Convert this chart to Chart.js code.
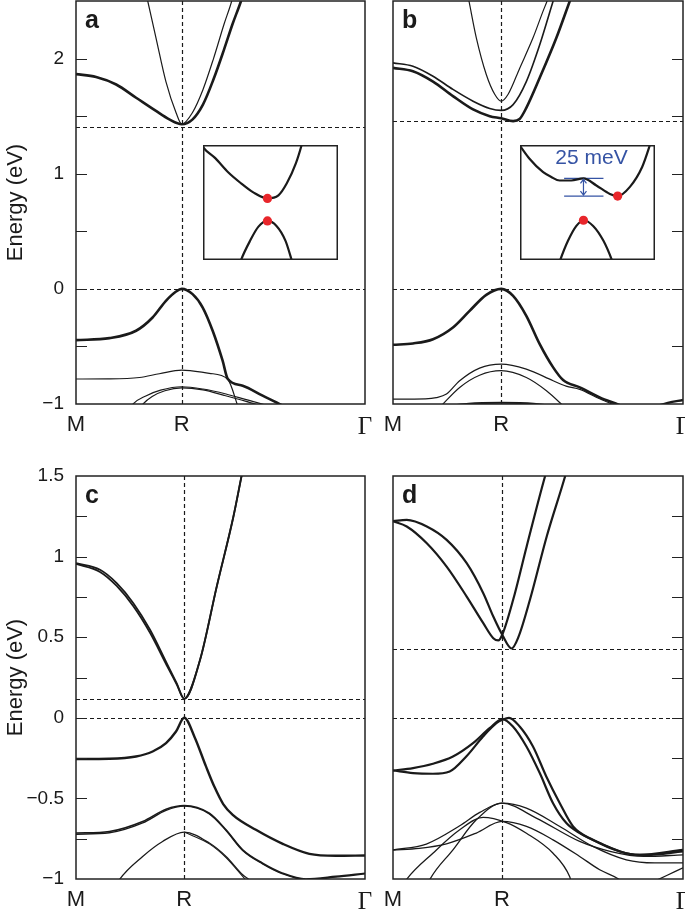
<!DOCTYPE html>
<html>
<head>
<meta charset="utf-8">
<script src="https://cdn.jsdelivr.net/npm/chart.js@4.4.1/dist/chart.umd.min.js"></script>
<style>
  html, body { margin: 0; padding: 0; background: #fff; }
  #fig { position: relative; width: 685px; height: 915px; overflow: hidden; background: #fff; }
  canvas { position: absolute; }
</style>
</head>
<body>
<div id="fig">
  <canvas id="pa" style="left:0;top:0" width="378" height="440"></canvas>
  <canvas id="pb" style="left:380px;top:0" width="305" height="440"></canvas>
  <canvas id="pc" style="left:0;top:460px" width="378" height="455"></canvas>
  <canvas id="pd" style="left:380px;top:460px" width="305" height="455"></canvas>
  <canvas id="ia" style="left:203px;top:145px" width="135" height="115"></canvas>
  <canvas id="ib" style="left:520px;top:145px" width="135" height="115"></canvas>
</div>
<script>
// k-path: M -> R -> Gamma, R at 0.5, Gamma position per panel (a, b, c, d)
const kLabels = ['M', 'R', 'Γ'];
const kR = 0.5;
const gammaK = [1.366, 1.34, 1.335, 1.33];

// energy windows (eV), tick steps and reference levels (VBM = 0, CBM)
const eWinTop = [-1, 2.5];
const eWinBottom = [-1, 1.5];
const tickStepTop = 0.5;
const tickStepBottom = 0.25;
const refA = [0, 1.405];
const refB = [0, 1.457];
const refC = [0, 0.116];
const refD = [0, 0.424];

// ---- panel a ----
const a_cb1 = [[0,1.865],[0.095,1.84],[0.19,1.775],[0.284,1.66],[0.378,1.545],[0.441,1.472],[0.5,1.43],[0.55,1.47],[0.6,1.6],[0.65,1.82],[0.7,2.08],[0.74,2.3],[0.78,2.5],[0.81,2.68]];
const a_cb2 = [[0.32,2.65],[0.339,2.5],[0.378,2.18],[0.425,1.8],[0.473,1.53],[0.5,1.43],[0.55,1.53],[0.6,1.73],[0.65,2.0],[0.7,2.3],[0.736,2.5],[0.76,2.68]];
const a_vb1 = [[0,-0.445],[0.158,-0.428],[0.284,-0.364],[0.362,-0.249],[0.425,-0.104],[0.473,-0.023],[0.5,0],[0.551,-0.046],[0.599,-0.162],[0.646,-0.364],[0.693,-0.624],[0.717,-0.78],[0.788,-0.841],[0.882,-0.928],[0.977,-1.015],[1.0,-1.04]];
const a_vb2 = [[0,-0.783],[0.15,-0.782],[0.3,-0.77],[0.394,-0.737],[0.5,-0.705],[0.63,-0.734],[0.717,-0.785],[0.764,-1.015],[0.77,-1.05]];
const a_vb3 = [[0.26,-1.03],[0.27,-1.0],[0.33,-0.93],[0.4,-0.88],[0.5,-0.85],[0.6,-0.87],[0.709,-0.913],[0.8,-0.96],[0.906,-1.015],[0.93,-1.03]];
const a_vb4 = [[0.305,-1.03],[0.317,-1.0],[0.36,-0.935],[0.42,-0.885],[0.5,-0.86],[0.6,-0.878],[0.7,-0.925],[0.8,-0.975],[0.88,-1.02]];

// ---- panel b ----
const b_cb1 = [[0.335,2.65],[0.351,2.5],[0.385,2.18],[0.431,1.862],[0.47,1.69],[0.5,1.63],[0.532,1.69],[0.586,1.919],[0.647,2.18],[0.693,2.41],[0.712,2.5],[0.73,2.6]];
const b_cb2 = [[0,1.963],[0.092,1.934],[0.185,1.847],[0.277,1.732],[0.37,1.63],[0.447,1.567],[0.5,1.55],[0.555,1.6],[0.616,1.8],[0.678,2.12],[0.74,2.5],[0.76,2.62]];
const b_cb3 = [[0,1.919],[0.092,1.89],[0.185,1.8],[0.277,1.674],[0.37,1.558],[0.447,1.5],[0.5,1.482],[0.555,1.457],[0.585,1.475],[0.616,1.572],[0.678,1.833],[0.755,2.18],[0.817,2.5],[0.84,2.62]];
const b_vb1 = [[0,-0.486],[0.092,-0.474],[0.185,-0.437],[0.277,-0.335],[0.354,-0.191],[0.431,-0.052],[0.5,0],[0.555,-0.061],[0.616,-0.234],[0.678,-0.48],[0.74,-0.682],[0.786,-0.792],[0.863,-0.856],[0.955,-0.942],[1.063,-1.023],[1.08,-1.04]];
const b_vb2 = [[0,-0.957],[0.15,-0.955],[0.2,-0.945],[0.247,-0.914],[0.308,-0.798],[0.4,-0.688],[0.5,-0.653],[0.616,-0.697],[0.74,-0.798],[0.8,-0.845],[0.863,-0.873],[0.955,-0.955],[1.05,-1.03]];
const b_vb3 = [[0.215,-1.03],[0.223,-1.015],[0.308,-0.856],[0.4,-0.75],[0.5,-0.711],[0.616,-0.77],[0.709,-0.885],[0.786,-1.015],[0.8,-1.04]];
const b_vb4 = [[0.25,-1.02],[0.35,-0.997],[0.5,-0.99],[0.65,-0.997],[0.74,-1.02]];
const b_vb5 = [[1.2,-1.03],[1.27,-0.99],[1.34,-0.965]];

// ---- panel c ----
const c_cb1 = [[0,0.959],[0.111,0.918],[0.188,0.835],[0.265,0.711],[0.342,0.546],[0.419,0.339],[0.465,0.215],[0.5,0.118],[0.573,0.36],[0.65,0.815],[0.727,1.249],[0.765,1.503],[0.78,1.6]];
const c_cb2 = [[0,0.955],[0.111,0.905],[0.188,0.818],[0.265,0.692],[0.342,0.527],[0.419,0.326],[0.465,0.208],[0.5,0.118],[0.573,0.358],[0.65,0.812],[0.727,1.246],[0.765,1.5],[0.78,1.6]];
const c_vb1 = [[0,-0.256],[0.154,-0.254],[0.277,-0.24],[0.354,-0.209],[0.416,-0.157],[0.462,-0.085],[0.5,0],[0.548,-0.12],[0.6,-0.3],[0.64,-0.43],[0.68,-0.535],[0.724,-0.602],[0.831,-0.695],[0.955,-0.782],[1.078,-0.844],[1.2,-0.856],[1.335,-0.854]];
const c_vb2 = [[0,-0.715],[0.154,-0.705],[0.308,-0.643],[0.416,-0.567],[0.5,-0.544],[0.616,-0.592],[0.693,-0.695],[0.77,-0.819],[0.862,-0.902],[0.955,-0.964],[1.062,-1.0],[1.2,-0.984],[1.335,-0.964]];
const c_vb2b = [[0,-0.722],[0.154,-0.713],[0.308,-0.652],[0.416,-0.574],[0.5,-0.548],[0.616,-0.596],[0.693,-0.699],[0.77,-0.823],[0.862,-0.906],[0.955,-0.968],[1.062,-1.004],[1.2,-0.988],[1.335,-0.968]];
const c_vb3 = [[0.19,-1.03],[0.2,-1.005],[0.308,-0.86],[0.4,-0.767],[0.5,-0.709],[0.616,-0.777],[0.693,-0.86],[0.77,-0.974],[0.808,-1.015],[0.82,-1.04]];
const c_vb3b = [[0.5,-0.709],[0.616,-0.782],[0.693,-0.867],[0.77,-0.984],[0.8,-1.03]];

// ---- panel d ----
const d_cb1 = [[0,1.22],[0.063,1.228],[0.155,1.187],[0.246,1.104],[0.338,0.959],[0.414,0.773],[0.46,0.628],[0.501,0.515],[0.544,0.43],[0.575,0.5],[0.628,0.732],[0.705,1.125],[0.789,1.497],[0.81,1.6]];
const d_cb2 = [[0,1.22],[0.063,1.187],[0.155,1.083],[0.246,0.938],[0.338,0.752],[0.414,0.587],[0.46,0.494],[0.483,0.48],[0.501,0.515],[0.551,0.732],[0.613,1.063],[0.697,1.497],[0.72,1.6]];
const d_vb1 = [[0,-0.327],[0.092,-0.312],[0.183,-0.285],[0.275,-0.24],[0.367,-0.157],[0.443,-0.064],[0.502,-0.008],[0.55,-0.054],[0.612,-0.178],[0.673,-0.343],[0.734,-0.53],[0.795,-0.653],[0.856,-0.715],[0.948,-0.777],[1.07,-0.84],[1.162,-0.85],[1.33,-0.829]];
const d_vb2 = [[0,-0.327],[0.092,-0.343],[0.183,-0.347],[0.26,-0.333],[0.336,-0.24],[0.413,-0.116],[0.474,-0.033],[0.502,-0.012],[0.532,0],[0.581,-0.054],[0.642,-0.178],[0.703,-0.364],[0.765,-0.53],[0.826,-0.674],[0.917,-0.757],[1.04,-0.829],[1.131,-0.85],[1.33,-0.819]];
const d_l1 = [[0,-0.82],[0.12,-0.81],[0.245,-0.782],[0.382,-0.715],[0.5,-0.643],[0.612,-0.674],[0.734,-0.757],[0.856,-0.86],[0.948,-0.943],[1.04,-1.005],[1.06,-1.03]];
const d_l2 = [[0,-0.82],[0.153,-0.783],[0.306,-0.67],[0.398,-0.587],[0.5,-0.529],[0.612,-0.56],[0.765,-0.674],[0.917,-0.798],[1.07,-0.881],[1.2,-0.9],[1.33,-0.9]];
const d_l3 = [[0.05,-1.03],[0.061,-1.005],[0.183,-0.84],[0.306,-0.695],[0.413,-0.618],[0.52,-0.65],[0.612,-0.716],[0.734,-0.84],[0.81,-0.985],[0.82,-1.03]];
const d_l4 = [[0.16,-1.03],[0.168,-1.005],[0.275,-0.819],[0.382,-0.633],[0.5,-0.529],[0.657,-0.622],[0.856,-0.767],[1.0,-0.83],[1.15,-0.86],[1.33,-0.85]];
const d_l5 = [[1.19,-1.02],[1.26,-0.975],[1.33,-0.93]];

// ---- insets: k (arb. units, R = 0) vs E (meV) ----
const ia_upper = [[-1.05,86],[-1.0,78],[-0.81,62.5],[-0.61,42.6],[-0.41,27],[-0.22,14.2],[0,5.7],[0.17,10],[0.3,27],[0.44,55],[0.53,81],[0.56,92]];
const ia_lower = [[-0.45,-92],[-0.41,-81],[-0.27,-54],[-0.14,-34],[0,-26],[0.14,-33],[0.28,-54],[0.375,-81],[0.41,-92]];
const ia_dots = [[0,5.7],[0,-26]];
const ib_upper = [[-1.02,84],[-0.97,78],[-0.84,62],[-0.63,43],[-0.5,36],[-0.37,31],[-0.19,31],[0,34],[0.2,24],[0.41,12],[0.53,9],[0.72,22],[0.91,50],[1.03,81],[1.06,90]];
const ib_lower = [[-0.4,-92],[-0.36,-81],[-0.24,-54],[-0.11,-33],[0,-25],[0.15,-33],[0.31,-54],[0.44,-81],[0.48,-92]];
const ib_dots = [[0,-25],[0.53,9]];
const ib_gap = [9, 34];          // meV levels of the two blue markers
const ib_gapSpan = [-0.3, 0.31]; // k extent of the markers
const ib_note = '25 meV';

const INK = '#1a1a1a';
const RED = '#e8262b';
const BLUE = '#3553a4';
const SANS = '"Liberation Sans", Arial, Helvetica, sans-serif';
const SERIF = '"Liberation Serif", "Times New Roman", serif';

Chart.defaults.font.family = SANS;
Chart.defaults.color = INK;

// frame, inward ticks, dashed reference lines and panel letter
const bandFrame = {
  id: 'bandFrame',
  beforeDatasetsDraw(chart, args, opts) {
    const { ctx, chartArea: ca, scales: { x, y } } = chart;
    ctx.save();
    ctx.strokeStyle = INK;
    ctx.lineWidth = 1.2;
    ctx.setLineDash([4, 3]);
    ctx.beginPath();
    opts.refs.forEach(e => {
      const py = Math.round(y.getPixelForValue(e)) + 0.5;
      ctx.moveTo(ca.left, py);
      ctx.lineTo(ca.right, py);
    });
    const px = Math.round(x.getPixelForValue(kR)) + 0.5;
    ctx.moveTo(px, ca.top);
    ctx.lineTo(px, ca.bottom);
    ctx.stroke();
    ctx.restore();
  },
  afterDraw(chart, args, opts) {
    const { ctx, chartArea: ca, scales: { y } } = chart;
    ctx.save();
    ctx.strokeStyle = '#222';
    ctx.lineWidth = 1.5;
    ctx.strokeRect(ca.left, ca.top, ca.right - ca.left, ca.bottom - ca.top);
    ctx.lineWidth = 1.2;
    ctx.beginPath();
    y.ticks.forEach(t => {
      if (t.value <= y.min || t.value >= y.max) return;
      const py = Math.round(y.getPixelForValue(t.value)) + 0.5;
      if (opts.tickSide === 'left') { ctx.moveTo(ca.left, py); ctx.lineTo(ca.left + 11, py); }
      else { ctx.moveTo(ca.right, py); ctx.lineTo(ca.right - 11, py); }
    });
    ctx.stroke();
    ctx.fillStyle = INK;
    ctx.font = 'bold 25px ' + SANS;
    ctx.textBaseline = 'alphabetic';
    ctx.fillText(opts.letter, ca.left + 9, ca.top + 27);
    ctx.restore();
  }
};

// label only every 'every' eV, leave other tick marks unlabeled
function fmtEvery(every) {
  return v => {
    const n = v / every;
    return Math.abs(n - Math.round(n)) < 1e-6 ? String(v).replace('-', '−') : '';
  };
}

function makePanel(id, o) {
  const gx = o.gamma;
  return new Chart(document.getElementById(id), {
    type: 'line',
    data: {
      datasets: o.bands.map(([pts, w]) => ({
        data: pts.map(([x, y]) => ({ x, y })),
        borderColor: INK,
        borderWidth: w,
        pointRadius: 0,
        fill: false,
        cubicInterpolationMode: 'monotone'
      }))
    },
    options: {
      responsive: false,
      animation: false,
      events: [],
      layout: { padding: o.pad, autoPadding: false },
      plugins: {
        legend: { display: false },
        tooltip: { enabled: false },
        bandFrame: { letter: o.letter, refs: o.refs, tickSide: o.tickSide }
      },
      scales: {
        x: {
          type: 'linear', min: 0, max: gx,
          grid: { display: false, drawTicks: false },
          border: { display: false },
          afterBuildTicks: s => { s.ticks = [0, kR, gx].map(v => ({ value: v })); },
          afterFit: s => { s.height = 36; s.paddingLeft = 0; s.paddingRight = 0; },
          ticks: {
            autoSkip: false, maxRotation: 0, padding: 8, color: INK,
            callback: (v, i) => kLabels[i],
            font: c => c.index === 2 ? { family: SERIF, size: 25 } : { family: SANS, size: 22 }
          }
        },
        y: {
          min: o.eWin[0], max: o.eWin[1],
          grid: { display: false, drawTicks: false },
          border: { display: false },
          afterFit: s => { s.width = o.yw; s.paddingTop = 0; s.paddingBottom = 0; },
          title: { display: o.labels, text: 'Energy (eV)', font: { size: 22 }, color: INK, padding: { top: 3, bottom: 0 } },
          ticks: { display: o.labels, autoSkip: false, stepSize: o.step, padding: 12, font: { size: 19 }, color: INK, callback: o.fmt }
        }
      }
    },
    plugins: [bandFrame]
  });
}

makePanel('pa', {
  gamma: gammaK[0], eWin: eWinTop, step: tickStepTop, refs: refA, letter: 'a', tickSide: 'left',
  labels: true, yw: 76, fmt: fmtEvery(1), pad: { left: 0, right: 13, top: 1, bottom: 0 },
  bands: [[a_cb1, 2.6], [a_cb2, 1.2], [a_vb1, 2.6], [a_vb2, 1.2], [a_vb3, 1.2], [a_vb4, 1.2]]
});
makePanel('pb', {
  gamma: gammaK[1], eWin: eWinTop, step: tickStepTop, refs: refB, letter: 'b', tickSide: 'right',
  labels: false, yw: 13, fmt: fmtEvery(1), pad: { left: 0, right: 2, top: 1, bottom: 0 },
  bands: [[b_cb1, 1.2], [b_cb2, 1.6], [b_cb3, 2.6], [b_vb1, 2.6], [b_vb2, 1.2], [b_vb3, 1.2], [b_vb4, 2.0], [b_vb5, 2.4]]
});
makePanel('pc', {
  gamma: gammaK[2], eWin: eWinBottom, step: tickStepBottom, refs: refC, letter: 'c', tickSide: 'left',
  labels: true, yw: 76, fmt: fmtEvery(0.5), pad: { left: 0, right: 13, top: 16, bottom: 0 },
  bands: [[c_cb1, 1.8], [c_cb2, 1.8], [c_vb1, 2.4], [c_vb2, 1.6], [c_vb2b, 1.4], [c_vb3, 1.3], [c_vb3b, 1.1]]
});
makePanel('pd', {
  gamma: gammaK[3], eWin: eWinBottom, step: tickStepBottom, refs: refD, letter: 'd', tickSide: 'right',
  labels: false, yw: 13, fmt: fmtEvery(0.5), pad: { left: 0, right: 2, top: 16, bottom: 0 },
  bands: [[d_cb1, 2.2], [d_cb2, 2.2], [d_vb1, 2.2], [d_vb2, 2.2], [d_l1, 1.3], [d_l2, 1.3], [d_l3, 1.3], [d_l4, 1.3], [d_l5, 1.3]]
});

// inset frame, plus optional gap marker arrow and note
const insetFrame = {
  id: 'insetFrame',
  afterDraw(chart, args, opts) {
    const { ctx, chartArea: ca, scales: { x, y } } = chart;
    ctx.save();
    ctx.strokeStyle = '#222';
    ctx.lineWidth = 1.5;
    ctx.strokeRect(ca.left + 0.75, ca.top + 0.75, ca.right - ca.left - 1.5, ca.bottom - ca.top - 1.5);
    if (opts.gap) {
      const px = x.getPixelForValue(0);
      const y1 = y.getPixelForValue(opts.gap[1]);
      const y0 = y.getPixelForValue(opts.gap[0]);
      ctx.strokeStyle = BLUE;
      ctx.lineWidth = 1.2;
      ctx.beginPath();
      ctx.moveTo(px, y1 + 1); ctx.lineTo(px, y0 - 1);
      ctx.moveTo(px - 3, y1 + 5); ctx.lineTo(px, y1 + 1); ctx.lineTo(px + 3, y1 + 5);
      ctx.moveTo(px - 3, y0 - 5); ctx.lineTo(px, y0 - 1); ctx.lineTo(px + 3, y0 - 5);
      ctx.stroke();
      ctx.fillStyle = BLUE;
      ctx.font = '21px ' + SANS;
      ctx.textAlign = 'center';
      ctx.textBaseline = 'middle';
      ctx.fillText(opts.note, x.getPixelForValue(0.125), y.getPixelForValue(62));
    }
    ctx.restore();
  }
};

function curve(pts, color, w) {
  return { data: pts.map(([x, y]) => ({ x, y })), borderColor: color, borderWidth: w, pointRadius: 0, fill: false, cubicInterpolationMode: 'monotone' };
}

function makeInset(id, o) {
  const sets = [
    { data: o.dots.map(([x, y]) => ({ x, y })), showLine: false, pointRadius: 4.6, pointBackgroundColor: RED, pointBorderWidth: 0 },
    curve(o.upper, INK, 2.2),
    curve(o.lower, INK, 2.2)
  ];
  if (o.gap) {
    o.gap.forEach(e => sets.push({ data: ib_gapSpan.map(k => ({ x: k, y: e })), borderColor: BLUE, borderWidth: 1.3, pointRadius: 0, fill: false }));
  }
  return new Chart(document.getElementById(id), {
    type: 'line',
    data: { datasets: sets },
    options: {
      responsive: false, animation: false, events: [],
      layout: { padding: 0, autoPadding: false },
      plugins: { legend: { display: false }, tooltip: { enabled: false }, insetFrame: { gap: o.gap, note: o.note } },
      scales: {
        x: { type: 'linear', display: false, min: o.kWin[0], max: o.kWin[1] },
        y: { display: false, min: -81, max: 81 }
      }
    },
    plugins: [insetFrame]
  });
}

makeInset('ia', { kWin: [-1.0, 1.094], upper: ia_upper, lower: ia_lower, dots: ia_dots });
makeInset('ib', { kWin: [-0.984, 1.109], upper: ib_upper, lower: ib_lower, dots: ib_dots, gap: ib_gap, note: ib_note });
</script>
</body>
</html>
